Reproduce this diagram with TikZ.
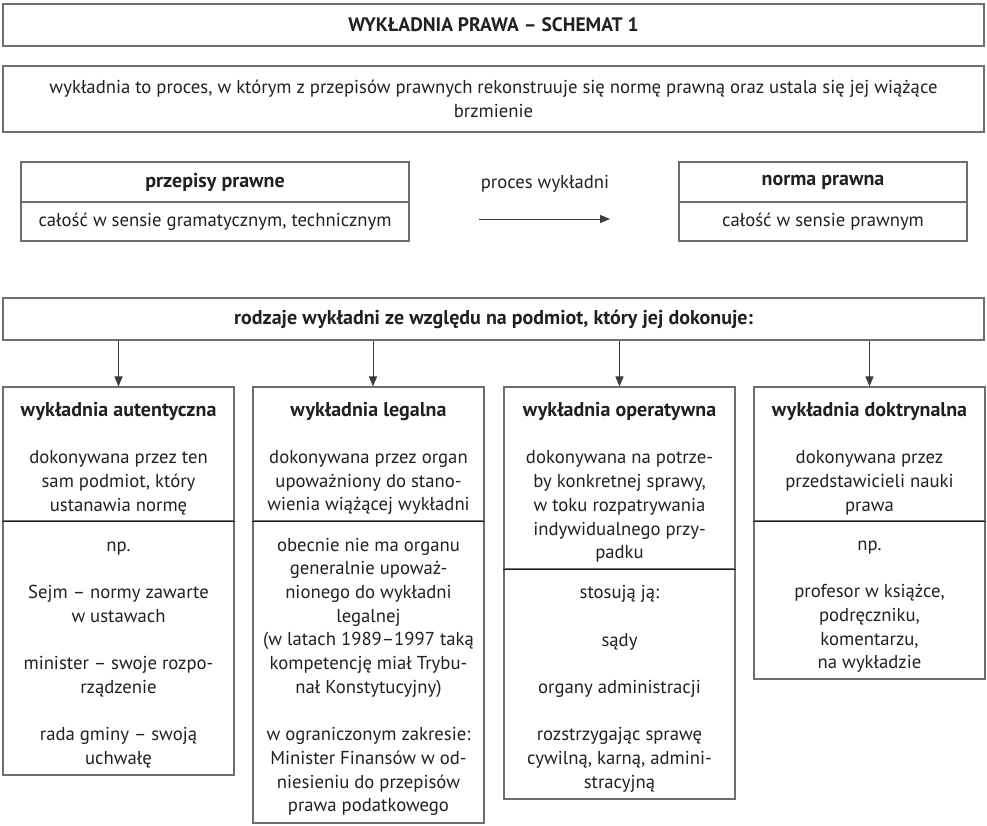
\documentclass[tikz,border=0pt]{standalone}
\usepackage{fontspec}
\setmainfont{PT Sans}
\usetikzlibrary{arrows.meta}
\definecolor{txt}{HTML}{231F20}
\definecolor{frame}{HTML}{6D6E71}
\definecolor{arrowc}{HTML}{3C3C3C}
\newcommand{\fsz}{\fontsize{18.7}{23.7}\selectfont}
\newcommand{\bsz}{\bfseries\fontsize{20}{23.7}\selectfont}
\newcommand{\hd}[1]{{\bsz #1}}
\newcommand{\gp}{\\[23.7pt]}
\newcommand{\tp}{\rule{0pt}{23pt}}
\tikzset{
  box/.style={draw=frame, line width=1.1pt, inner sep=0pt, align=center,
    text=txt, font=\fsz},
  wide/.style={box, minimum width=981pt},
  divline/.style={draw=txt, line width=1.1pt},
  arr/.style={draw=arrowc, line width=1pt, -{Triangle[length=10pt,width=8pt]}},
  plain/.style={text=txt, font=\fsz, inner sep=0pt}
}
\begin{document}
\begin{tikzpicture}[x=1pt,y=-1pt]
\useasboundingbox (0,0) rectangle (987,825);
% top
\node[wide, minimum height=42pt, font=\bfseries\fontsize{19.5}{23}\selectfont] (title) at (493.5,25) {WYKŁADNIA PRAWA – SCHEMAT 1};
\node[wide, minimum height=66pt] (def) at (493.5,99) {wykładnia to proces, w którym z przepisów prawnych rekonstruuje się normę prawną oraz ustala się jej wiążące\\brzmienie};
% przepisy / norma
\node[box, minimum width=388pt, minimum height=40pt, font=\bsz] (pt) at (215,182) {przepisy prawne};
\node[box, minimum width=388pt, minimum height=39pt] (pb) at (215,221.5) {całość w sensie gramatycznym, technicznym};
\node[box, minimum width=288pt, minimum height=40pt, font=\bsz] (nt) at (823,182) {norma prawna};
\node[box, minimum width=288pt, minimum height=39pt] (nb) at (823,221.5) {całość w sensie prawnym};
\coordinate (a1) at (479,219);
\coordinate (a2) at (610,219);
\draw[arr] (a1) -- (a2);
\node[plain] (proc) at (545,184) {proces wykładni};
% rodzaje
\node[wide, minimum height=42pt, font=\bsz] (rod) at (493.5,319) {rodzaje wykładni ze względu na podmiot, który jej dokonuje:};
% box 1
\node[box, minimum width=231pt, minimum height=134pt] (b1t) at (118.5,454) {\tp\hd{wykładnia autentyczna}\gp dokonywana przez ten\\sam podmiot, który\\ustanawia normę};
\node[box, minimum width=231pt, minimum height=254pt] (b1b) at (118.5,648) {\tp np.\gp Sejm – normy zawarte\\w ustawach\gp minister – swoje rozpo-\\rządzenie\gp rada gminy – swoją\\uchwałę};
% box 2
\node[box, minimum width=231pt, minimum height=134pt] (b2t) at (368.5,454) {\tp\hd{wykładnia legalna}\gp dokonywana przez organ\\upoważniony do stano-\\wienia wiążącej wykładni};
\node[box, minimum width=231pt, minimum height=302pt] (b2b) at (368.5,672) {\tp obecnie nie ma organu\\generalnie upoważ-\\nionego do wykładni\\legalnej\\(w latach 1989–1997 taką\\kompetencję miał Trybu-\\nał Konstytucyjny)\gp w ograniczonym zakresie:\\Minister Finansów w od-\\niesieniu do przepisów\\prawa podatkowego};
% box 3
\node[box, minimum width=231pt, minimum height=182pt] (b3t) at (619.5,478) {\tp\hd{wykładnia operatywna}\gp dokonywana na potrze-\\by konkretnej sprawy,\\w toku rozpatrywania\\indywidualnego przy-\\padku};
\node[box, minimum width=231pt, minimum height=230pt] (b3b) at (619.5,684) {\tp stosują ją:\gp sądy\gp organy administracji\gp rozstrzygając sprawę\\cywilną, karną, admini-\\stracyjną};
% box 4
\node[box, minimum width=231pt, minimum height=134pt] (b4t) at (869.5,454) {\tp\hd{wykładnia doktrynalna}\gp dokonywana przez\\przedstawicieli nauki\\prawa};
\node[box, minimum width=231pt, minimum height=158pt] (b4b) at (869.5,600) {\tp np.\gp profesor w książce,\\podręczniku,\\komentarzu,\\na wykładzie};
% dividers
\foreach \b in {b1t,b2t,b3t,b4t} \draw[divline] (\b.south west) -- (\b.south east);
% arrows
\draw[arr] (b1t.north |- rod.south) -- (b1t.north);
\draw[arr] ([xshift=4.5pt]b2t.north |- rod.south) -- ([xshift=4.5pt]b2t.north);
\draw[arr] (b3t.north |- rod.south) -- (b3t.north);
\draw[arr] (b4t.north |- rod.south) -- (b4t.north);
\end{tikzpicture}
\end{document}
